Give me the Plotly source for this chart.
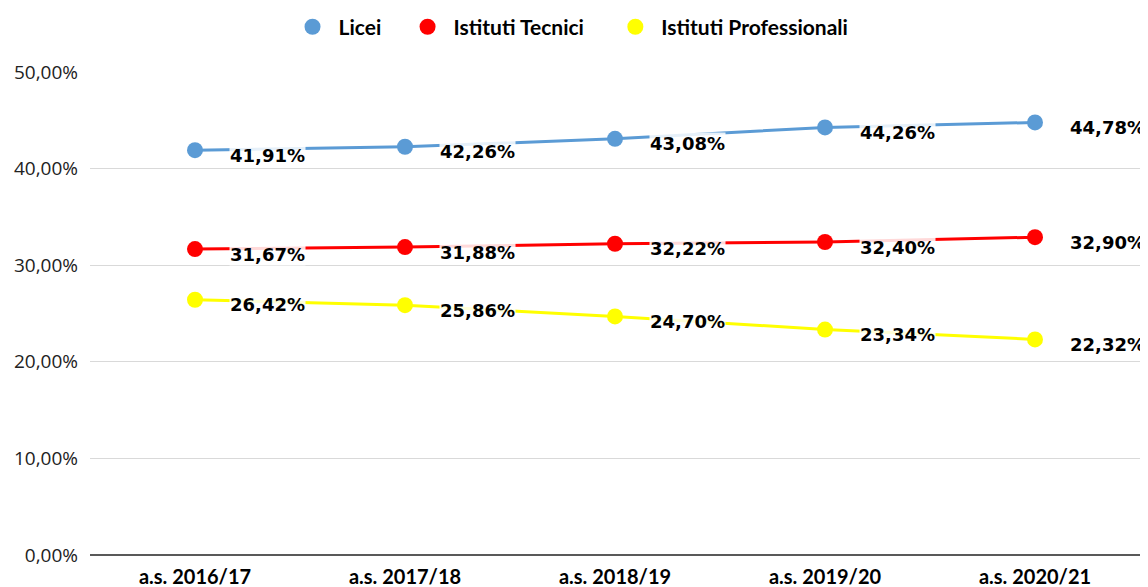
import plotly.graph_objects as go

categories = ["a.s. 2016/17", "a.s. 2017/18", "a.s. 2018/19", "a.s. 2019/20", "a.s. 2020/21"]
licei = [41.91, 42.26, 43.08, 44.26, 44.78]
tecnici = [31.67, 31.88, 32.22, 32.40, 32.90]
professionali = [26.42, 25.86, 24.70, 23.34, 22.32]
series_names = ["Licei", "Istituti Tecnici", "Istituti Professionali"]
colors = ["#5b9bd5", "#ff0000", "#ffff00"]
y_ticks = [0, 10, 20, 30, 40, 50]
y_tick_labels = ["0,00%", "10,00%", "20,00%", "30,00%", "40,00%", "50,00%"]

fig = go.Figure()
annotations = []
pads = ["\u00a0" * 3, "\u00a0" * 4, ""]
for name, vals, col, pad in zip(series_names, [licei, tecnici, professionali], colors, pads):
    fig.add_trace(go.Scatter(
        x=categories, y=vals, mode="lines+markers", name=name, showlegend=False,
        line=dict(color=col, width=3),
        marker=dict(color=col, size=16),
        hoverinfo="skip",
    ))
    fig.add_trace(go.Scatter(
        x=[None], y=[None], mode="markers", name=name + pad, showlegend=True,
        marker=dict(color=col, size=20),
    ))
    for c, v in zip(categories, vals):
        annotations.append(dict(
            x=c, y=v, xref="x", yref="y", text="<b>" + f"{v:.2f}".replace(".", ",") + "%</b>",
            showarrow=False, xanchor="left", yanchor="middle", xshift=34, yshift=-5,
            font=dict(family="DejaVu Sans", size=18, color="#000000"),
            bgcolor="rgba(255,255,255,0.85)", borderpad=0,
        ))

# page body has an 8px margin, so the figure is sized/offset to land on the 1148x587 view
fig.update_layout(
    width=1140, height=579,
    margin=dict(l=82, r=8, t=64, b=32, autoexpand=False),
    paper_bgcolor="white", plot_bgcolor="white",
    annotations=annotations,
    legend=dict(orientation="h", x=0.493, xref="container", xanchor="center", y=1.093, yref="paper",
                yanchor="middle", font=dict(family="Lato", size=21, color="#000000", weight="bold"),
                itemsizing="trace", itemwidth=42, traceorder="normal", bgcolor="rgba(0,0,0,0)"),
    showlegend=True,
)
fig.update_xaxes(
    type="category", range=[-0.5, 4.5], showgrid=False, showline=False, zeroline=False,
    ticks="", tickfont=dict(family="Lato", size=20, color="#000000", weight="bold"),
    ticklabelstandoff=8, automargin=False,
)
fig.update_yaxes(
    range=[0, 50], tickvals=y_ticks, ticktext=y_tick_labels,
    showgrid=True, gridcolor="#d9d9d9", gridwidth=1, zeroline=True, zerolinecolor="#595959",
    zerolinewidth=2, showline=False, ticks="", ticklabelstandoff=11, automargin=False,
    tickfont=dict(family="Open Sans", size=19, color="#222222"),
)
fig.write_html("out.html")
